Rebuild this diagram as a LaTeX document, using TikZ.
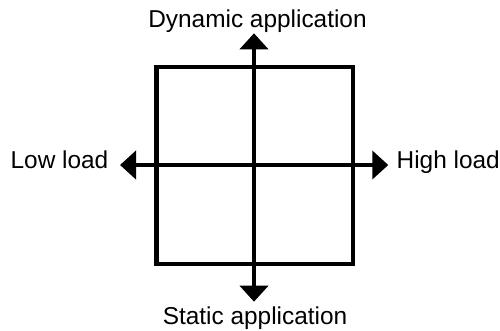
\documentclass[tikz,border=0pt]{standalone}
\usepackage{fontspec}
\setmainfont{Liberation Sans}
\usetikzlibrary{arrows.meta}
\begin{document}
\begin{tikzpicture}[x=1pt,y=-1pt,
  axis/.style={line width=4.6pt,{Triangle[width=28pt,length=16pt]}-{Triangle[width=28pt,length=16pt]}},
  quad/.style={draw,line width=4.6pt},
  lbl/.style={font=\fontsize{24.4}{28}\selectfont,inner sep=0pt,anchor=base}]
\useasboundingbox (0,0) rectangle (500,330);
\draw[quad] (156.5,67) rectangle (353,264);
\coordinate (top) at (254,33.3);
\coordinate (bot) at (254,301.7);
\coordinate (left) at (120,165);
\coordinate (right) at (388.3,165);
\draw[axis] (bot) -- (top);
\draw[axis] (left) -- (right);
\node[lbl] (dyn) at (257.5,27) {Dynamic application};
\node[lbl] (stat) at (255,324) {Static application};
\node[lbl,anchor=base east] (low) at (108.5,168.5) {Low load};
\node[lbl,anchor=base west] (high) at (396.5,168.5) {High load};
\end{tikzpicture}
\end{document}
